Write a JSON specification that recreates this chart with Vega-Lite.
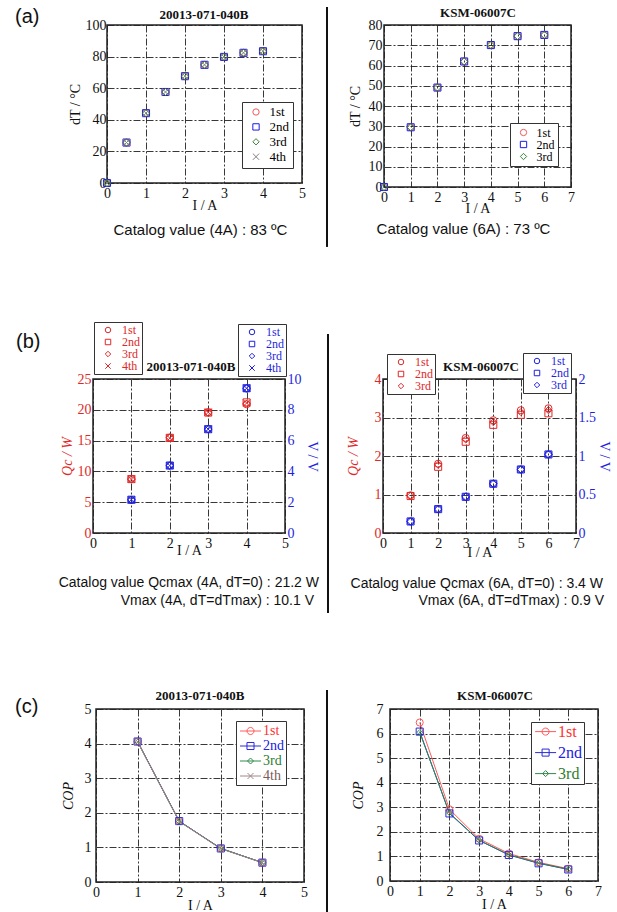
{
  "$schema": "https://vega.github.io/schema/vega-lite/v6.json",
  "background": "white",
  "padding": 0,
  "spacing": 0,
  "bounds": "flush",
  "resolve": {"scale": {"color": "independent", "shape": "independent"}, "legend": {"color": "independent", "shape": "independent"}},
  "config": {
    "font": "Liberation Serif",
    "view": {"stroke": "#222", "strokeWidth": 1.5},
    "axis": {
      "domain": false, "ticks": false,
      "labelFont": "Liberation Serif", "labelFontSize": 14, "labelColor": "#111", "labelPadding": 3,
      "labelFlush": false, "labelOverlap": false,
      "titleFont": "Liberation Serif", "titleFontSize": 14, "titleFontWeight": "normal", "titleColor": "#111",
      "grid": true, "gridColor": "#222", "gridDash": [7, 2, 2, 2], "gridWidth": 1, "gridOpacity": 0.9
    },
    "axisY": {"labelPadding": 2},
    "text": {"color": "#111"}
  },
  "datasets": {
    "aL": [
      {"run": "1st", "I": 0, "dT": 0}, {"run": "1st", "I": 0.5, "dT": 25.6}, {"run": "1st", "I": 1, "dT": 44.2}, {"run": "1st", "I": 1.5, "dT": 57.6}, {"run": "1st", "I": 2, "dT": 67.6}, {"run": "1st", "I": 2.5, "dT": 74.8}, {"run": "1st", "I": 3, "dT": 79.8}, {"run": "1st", "I": 3.5, "dT": 82.4}, {"run": "1st", "I": 4, "dT": 83.4},
      {"run": "2nd", "I": 0, "dT": 0}, {"run": "2nd", "I": 0.5, "dT": 25.6}, {"run": "2nd", "I": 1, "dT": 44.2}, {"run": "2nd", "I": 1.5, "dT": 57.6}, {"run": "2nd", "I": 2, "dT": 67.6}, {"run": "2nd", "I": 2.5, "dT": 74.8}, {"run": "2nd", "I": 3, "dT": 79.8}, {"run": "2nd", "I": 3.5, "dT": 82.4}, {"run": "2nd", "I": 4, "dT": 83.4},
      {"run": "3rd", "I": 0, "dT": 0}, {"run": "3rd", "I": 0.5, "dT": 25.6}, {"run": "3rd", "I": 1, "dT": 44.2}, {"run": "3rd", "I": 1.5, "dT": 57.6}, {"run": "3rd", "I": 2, "dT": 67.6}, {"run": "3rd", "I": 2.5, "dT": 74.8}, {"run": "3rd", "I": 3, "dT": 79.8}, {"run": "3rd", "I": 3.5, "dT": 82.4}, {"run": "3rd", "I": 4, "dT": 83.4},
      {"run": "4th", "I": 0, "dT": 0}, {"run": "4th", "I": 0.5, "dT": 25.6}, {"run": "4th", "I": 1, "dT": 44.2}, {"run": "4th", "I": 1.5, "dT": 57.6}, {"run": "4th", "I": 2, "dT": 67.6}, {"run": "4th", "I": 2.5, "dT": 74.8}, {"run": "4th", "I": 3, "dT": 79.8}, {"run": "4th", "I": 3.5, "dT": 82.4}, {"run": "4th", "I": 4, "dT": 83.4}
    ],
    "aR": [
      {"run": "1st", "I": 0, "dT": 0}, {"run": "1st", "I": 1, "dT": 29.5}, {"run": "1st", "I": 2, "dT": 49.1}, {"run": "1st", "I": 3, "dT": 62.0}, {"run": "1st", "I": 4, "dT": 70.1}, {"run": "1st", "I": 5, "dT": 74.5}, {"run": "1st", "I": 6, "dT": 75.1},
      {"run": "2nd", "I": 0, "dT": 0}, {"run": "2nd", "I": 1, "dT": 29.5}, {"run": "2nd", "I": 2, "dT": 49.1}, {"run": "2nd", "I": 3, "dT": 62.0}, {"run": "2nd", "I": 4, "dT": 70.1}, {"run": "2nd", "I": 5, "dT": 74.5}, {"run": "2nd", "I": 6, "dT": 75.1},
      {"run": "3rd", "I": 0, "dT": 0}, {"run": "3rd", "I": 1, "dT": 29.5}, {"run": "3rd", "I": 2, "dT": 49.1}, {"run": "3rd", "I": 3, "dT": 62.0}, {"run": "3rd", "I": 4, "dT": 70.1}, {"run": "3rd", "I": 5, "dT": 74.5}, {"run": "3rd", "I": 6, "dT": 75.1}
    ],
    "bL": [
      {"run": "1st", "I": 1, "Qc": 8.8, "V": 2.15}, {"run": "1st", "I": 2, "Qc": 15.5, "V": 4.38}, {"run": "1st", "I": 3, "Qc": 19.6, "V": 6.75}, {"run": "1st", "I": 4, "Qc": 20.9, "V": 9.38},
      {"run": "2nd", "I": 1, "Qc": 8.75, "V": 2.16}, {"run": "2nd", "I": 2, "Qc": 15.45, "V": 4.38}, {"run": "2nd", "I": 3, "Qc": 19.55, "V": 6.74}, {"run": "2nd", "I": 4, "Qc": 21.2, "V": 9.4},
      {"run": "3rd", "I": 1, "Qc": 8.7, "V": 2.16}, {"run": "3rd", "I": 2, "Qc": 15.5, "V": 4.38}, {"run": "3rd", "I": 3, "Qc": 19.5, "V": 6.74}, {"run": "3rd", "I": 4, "Qc": 21.0, "V": 9.4},
      {"run": "4th", "I": 1, "Qc": 8.75, "V": 2.16}, {"run": "4th", "I": 2, "Qc": 15.4, "V": 4.38}, {"run": "4th", "I": 3, "Qc": 19.6, "V": 6.74}, {"run": "4th", "I": 4, "Qc": 21.1, "V": 9.4}
    ],
    "bR": [
      {"run": "1st", "I": 1, "Qc": 0.98, "V": 0.15}, {"run": "1st", "I": 2, "Qc": 1.80, "V": 0.31}, {"run": "1st", "I": 3, "Qc": 2.47, "V": 0.47}, {"run": "1st", "I": 4, "Qc": 2.93, "V": 0.64}, {"run": "1st", "I": 5, "Qc": 3.19, "V": 0.825}, {"run": "1st", "I": 6, "Qc": 3.24, "V": 1.02},
      {"run": "2nd", "I": 1, "Qc": 0.96, "V": 0.15}, {"run": "2nd", "I": 2, "Qc": 1.72, "V": 0.31}, {"run": "2nd", "I": 3, "Qc": 2.37, "V": 0.47}, {"run": "2nd", "I": 4, "Qc": 2.81, "V": 0.64}, {"run": "2nd", "I": 5, "Qc": 3.07, "V": 0.825}, {"run": "2nd", "I": 6, "Qc": 3.11, "V": 1.02},
      {"run": "3rd", "I": 1, "Qc": 0.97, "V": 0.15}, {"run": "3rd", "I": 2, "Qc": 1.77, "V": 0.31}, {"run": "3rd", "I": 3, "Qc": 2.43, "V": 0.47}, {"run": "3rd", "I": 4, "Qc": 2.88, "V": 0.64}, {"run": "3rd", "I": 5, "Qc": 3.14, "V": 0.825}, {"run": "3rd", "I": 6, "Qc": 3.19, "V": 1.02}
    ],
    "cL": [
      {"run": "1st", "I": 1, "COP": 4.06}, {"run": "1st", "I": 2, "COP": 1.76}, {"run": "1st", "I": 3, "COP": 0.97}, {"run": "1st", "I": 4, "COP": 0.56},
      {"run": "2nd", "I": 1, "COP": 4.06}, {"run": "2nd", "I": 2, "COP": 1.76}, {"run": "2nd", "I": 3, "COP": 0.97}, {"run": "2nd", "I": 4, "COP": 0.56},
      {"run": "3rd", "I": 1, "COP": 4.05}, {"run": "3rd", "I": 2, "COP": 1.75}, {"run": "3rd", "I": 3, "COP": 0.97}, {"run": "3rd", "I": 4, "COP": 0.56},
      {"run": "4th", "I": 1, "COP": 4.05}, {"run": "4th", "I": 2, "COP": 1.75}, {"run": "4th", "I": 3, "COP": 0.96}, {"run": "4th", "I": 4, "COP": 0.56}
    ],
    "cR": [
      {"run": "1st", "I": 1, "COP": 6.45}, {"run": "1st", "I": 2, "COP": 2.92}, {"run": "1st", "I": 3, "COP": 1.72}, {"run": "1st", "I": 4, "COP": 1.12}, {"run": "1st", "I": 5, "COP": 0.76}, {"run": "1st", "I": 6, "COP": 0.50},
      {"run": "2nd", "I": 1, "COP": 6.08}, {"run": "2nd", "I": 2, "COP": 2.75}, {"run": "2nd", "I": 3, "COP": 1.65}, {"run": "2nd", "I": 4, "COP": 1.06}, {"run": "2nd", "I": 5, "COP": 0.72}, {"run": "2nd", "I": 6, "COP": 0.47},
      {"run": "3rd", "I": 1, "COP": 6.05}, {"run": "3rd", "I": 2, "COP": 2.77}, {"run": "3rd", "I": 3, "COP": 1.66}, {"run": "3rd", "I": 4, "COP": 1.07}, {"run": "3rd", "I": 5, "COP": 0.73}, {"run": "3rd", "I": 6, "COP": 0.48}
    ]
  },
  "vconcat": [
    {"width": 1, "height": 25, "data": {"values": []}, "mark": "point", "view": {"stroke": null}},
    {
      "spacing": 0, "bounds": "flush",
      "resolve": {"scale": {"color": "independent", "shape": "independent"}, "legend": {"color": "independent", "shape": "independent"}},
      "hconcat": [
        {"width": 107, "height": 1, "data": {"values": []}, "mark": "point", "view": {"stroke": null}},
        {
          "width": 195, "height": 158,
          "layer": [
            {
              "data": {"name": "aL"},
              "mark": {"type": "point", "filled": false, "size": 50, "strokeWidth": 1, "opacity": 1},
              "encoding": {
                "x": {"field": "I", "type": "quantitative", "scale": {"domain": [0, 5], "nice": false}, "axis": {"values": [0, 1, 2, 3, 4, 5], "title": "I / A", "titlePadding": -2}},
                "y": {"field": "dT", "type": "quantitative", "scale": {"domain": [0, 100], "nice": false}, "axis": {"values": [0, 20, 40, 60, 80, 100], "title": "dT / °C", "titlePadding": 3, "labelPadding": 1}},
                "color": {"field": "run", "type": "nominal", "scale": {"domain": ["1st", "2nd", "3rd", "4th"], "range": ["#f05a5a", "#1c1ce6", "#3a873a", "#808080"]},
                  "legend": {"orient": "none", "legendX": 135, "legendY": 77, "title": null, "strokeColor": "#333", "fillColor": "white", "padding": 3.5, "rowPadding": 0.9, "labelFont": "Liberation Serif", "labelFontSize": 13, "labelOffset": 7, "symbolOffset": 4, "symbolSize": 40, "symbolStrokeWidth": 1,
                    "encode": {"labels": {"update": {"fill": {"signal": "datum.value === '1st' ? '#e83030' : datum.value === '2nd' ? '#2020e0' : datum.value === '3rd' ? '#2e7d32' : '#606060'"}}}}}},
                "shape": {"field": "run", "type": "nominal", "scale": {"domain": ["1st", "2nd", "3rd", "4th"], "range": ["circle", "square", "diamond", "M-1,-1L1,1M-1,1L1,-1"]},
                  "legend": {"orient": "none", "legendX": 135, "legendY": 77, "title": null, "strokeColor": "#333", "fillColor": "white", "padding": 3.5, "rowPadding": 0.9, "labelFont": "Liberation Serif", "labelFontSize": 13, "labelOffset": 7, "symbolOffset": 4, "symbolSize": 40, "symbolStrokeWidth": 1,
                    "encode": {"labels": {"update": {"fill": {"signal": "datum.value === '1st' ? '#e83030' : datum.value === '2nd' ? '#2020e0' : datum.value === '3rd' ? '#2e7d32' : '#606060'"}}}}}}
              }
            },
            {
              "data": {"values": [{"t": "(a)"}]},
              "mark": {"type": "text", "font": "Liberation Sans", "fontSize": 20, "align": "left", "baseline": "middle"},
              "encoding": {
                "x": {"datum": -2.359, "type": "quantitative", "axis": {"values": [0, 1, 2, 3, 4, 5], "title": "I / A", "titlePadding": -2}},
                "y": {"datum": 105.06, "type": "quantitative", "axis": {"values": [0, 20, 40, 60, 80, 100], "title": "dT / °C", "titlePadding": 3, "labelPadding": 1}},
                "text": {"field": "t"}}
            },
            {
              "data": {"values": [{"t": "20013-071-040B"}]},
              "mark": {"type": "text", "font": "Liberation Serif", "fontSize": 13, "fontWeight": "bold", "align": "center", "baseline": "middle"},
              "encoding": {
                "x": {"datum": 2.487, "type": "quantitative", "axis": {"values": [0, 1, 2, 3, 4, 5], "title": "I / A", "titlePadding": -2}},
                "y": {"datum": 106.33, "type": "quantitative", "axis": {"values": [0, 20, 40, 60, 80, 100], "title": "dT / °C", "titlePadding": 3, "labelPadding": 1}},
                "text": {"field": "t"}}
            },
            {
              "data": {"values": [{"t": "Catalog value (4A) : 83 ºC"}]},
              "mark": {"type": "text", "font": "Liberation Sans", "fontSize": 15, "align": "center", "baseline": "middle"},
              "encoding": {
                "x": {"datum": 2.397, "type": "quantitative", "axis": {"values": [0, 1, 2, 3, 4, 5], "title": "I / A", "titlePadding": -2}},
                "y": {"datum": -29.75, "type": "quantitative", "axis": {"values": [0, 20, 40, 60, 80, 100], "title": "dT / °C", "titlePadding": 3, "labelPadding": 1}},
                "text": {"field": "t"}}
            }
          ]
        },
        {"width": 82, "height": 1, "data": {"values": []}, "mark": "point", "view": {"stroke": null}},
        {
          "width": 187, "height": 162,
          "layer": [
            {
              "data": {"name": "aR"},
              "mark": {"type": "point", "filled": false, "size": 50, "strokeWidth": 1, "opacity": 1},
              "encoding": {
                "x": {"field": "I", "type": "quantitative", "scale": {"domain": [0, 7], "nice": false}, "axis": {"values": [0, 1, 2, 3, 4, 5, 6, 7], "title": "I / A", "titlePadding": -3}},
                "y": {"field": "dT", "type": "quantitative", "scale": {"domain": [0, 80], "nice": false}, "axis": {"values": [0, 10, 20, 30, 40, 50, 60, 70, 80], "title": "dT / °C", "titlePadding": 6}},
                "color": {"field": "run", "type": "nominal", "scale": {"domain": ["1st", "2nd", "3rd"], "range": ["#f05a5a", "#1c1ce6", "#3a873a"]},
                  "legend": {"orient": "none", "legendX": 126, "legendY": 98, "title": null, "strokeColor": "#333", "fillColor": "white", "padding": 3.5, "rowPadding": 0, "labelFont": "Liberation Serif", "labelFontSize": 12, "labelOffset": 7, "symbolOffset": 4, "symbolSize": 40, "symbolStrokeWidth": 1,
                    "encode": {"labels": {"update": {"fill": {"signal": "datum.value === '1st' ? '#e83030' : datum.value === '2nd' ? '#2020e0' : '#2e7d32'"}}}}}},
                "shape": {"field": "run", "type": "nominal", "scale": {"domain": ["1st", "2nd", "3rd"], "range": ["circle", "square", "diamond"]},
                  "legend": {"orient": "none", "legendX": 126, "legendY": 98, "title": null, "strokeColor": "#333", "fillColor": "white", "padding": 3.5, "rowPadding": 0, "labelFont": "Liberation Serif", "labelFontSize": 12, "labelOffset": 7, "symbolOffset": 4, "symbolSize": 40, "symbolStrokeWidth": 1,
                    "encode": {"labels": {"update": {"fill": {"signal": "datum.value === '1st' ? '#e83030' : datum.value === '2nd' ? '#2020e0' : '#2e7d32'"}}}}}}
              }
            },
            {
              "data": {"values": [{"t": "KSM-06007C"}]},
              "mark": {"type": "text", "font": "Liberation Serif", "fontSize": 13, "fontWeight": "bold", "align": "center", "baseline": "middle"},
              "encoding": {
                "x": {"datum": 3.519, "type": "quantitative", "axis": {"values": [0, 1, 2, 3, 4, 5, 6, 7], "title": "I / A", "titlePadding": -3}},
                "y": {"datum": 86.07, "type": "quantitative", "axis": {"values": [0, 10, 20, 30, 40, 50, 60, 70, 80], "title": "dT / °C", "titlePadding": 6}},
                "text": {"field": "t"}}
            },
            {
              "data": {"values": [{"t": "Catalog value (6A) : 73 ºC"}]},
              "mark": {"type": "text", "font": "Liberation Sans", "fontSize": 15, "align": "center", "baseline": "middle"},
              "encoding": {
                "x": {"datum": 2.976, "type": "quantitative", "axis": {"values": [0, 1, 2, 3, 4, 5, 6, 7], "title": "I / A", "titlePadding": -3}},
                "y": {"datum": -20.9, "type": "quantitative", "axis": {"values": [0, 10, 20, 30, 40, 50, 60, 70, 80], "title": "dT / °C", "titlePadding": 6}},
                "text": {"field": "t"}}
            },
            {
              "data": {"values": [{}]},
              "mark": {"type": "rule", "strokeWidth": 2, "color": "#111"},
              "encoding": {
                "x": {"datum": -2.134, "type": "quantitative", "axis": {"values": [0, 1, 2, 3, 4, 5, 6, 7], "title": "I / A", "titlePadding": -3}},
                "y": {"datum": 88.9, "type": "quantitative", "axis": {"values": [0, 10, 20, 30, 40, 50, 60, 70, 80], "title": "dT / °C", "titlePadding": 6}},
                "y2": {"datum": -29.6}}
            }
          ]
        }
      ]
    },
    {"width": 1, "height": 354, "data": {"values": []}, "mark": "point", "view": {"stroke": null}},
    {
      "spacing": 0, "bounds": "flush",
      "resolve": {"scale": {"color": "independent", "shape": "independent"}, "legend": {"color": "independent", "shape": "independent"}},
      "hconcat": [
        {"width": 93, "height": 1, "data": {"values": []}, "mark": "point", "view": {"stroke": null}},
        {
          "width": 192, "height": 154,
          "layer": [
            {
              "layer": [
                {
                  "data": {"name": "bL"},
                  "mark": {"type": "point", "filled": false, "size": 50, "strokeWidth": 1, "opacity": 1, "color": "#e02828"},
                  "encoding": {
                    "x": {"field": "I", "type": "quantitative", "scale": {"domain": [0, 5], "nice": false}, "axis": {"values": [0, 1, 2, 3, 4, 5], "title": "I / A", "titlePadding": -7}},
                    "y": {"field": "Qc", "type": "quantitative", "scale": {"domain": [0, 25], "nice": false}, "axis": {"orient": "left", "values": [0, 5, 10, 15, 20, 25], "title": "Qc / W", "titleFontStyle": "italic", "labelColor": "#e02828", "titleColor": "#e02828", "titlePadding": 3}},
                    "shape": {"field": "run", "type": "nominal", "scale": {"domain": ["1st", "2nd", "3rd", "4th"], "range": ["circle", "square", "diamond", "M-1,-1L1,1M-1,1L1,-1"]},
                      "legend": {"orient": "none", "legendX": 1, "legendY": -57, "title": null, "strokeColor": "#333", "fillColor": "white", "padding": 2, "rowPadding": 0, "labelFont": "Liberation Serif", "labelFontSize": 12, "labelColor": "#e02828", "labelOffset": 8, "symbolOffset": 6, "symbolSize": 30, "symbolStrokeColor": "#e02828", "symbolFillColor": "transparent", "symbolStrokeWidth": 1}}
                  }
                },
                {
                  "data": {"values": [{"t": "(b)"}]},
                  "mark": {"type": "text", "font": "Liberation Sans", "fontSize": 20, "align": "left", "baseline": "middle"},
                  "encoding": {
                    "x": {"datum": -2.005, "type": "quantitative", "axis": {"values": [0, 1, 2, 3, 4, 5], "title": "I / A", "titlePadding": -7}},
                    "y": {"datum": 31.0, "type": "quantitative", "axis": {"orient": "left", "values": [0, 5, 10, 15, 20, 25], "title": "Qc / W", "titleFontStyle": "italic", "labelColor": "#e02828", "titleColor": "#e02828", "titlePadding": 3}},
                    "text": {"field": "t"}}
                },
                {
                  "data": {"values": [{"t": "20013-071-040B"}]},
                  "mark": {"type": "text", "font": "Liberation Serif", "fontSize": 13, "fontWeight": "bold", "align": "center", "baseline": "middle"},
                  "encoding": {
                    "x": {"datum": 2.552, "type": "quantitative", "axis": {"values": [0, 1, 2, 3, 4, 5], "title": "I / A", "titlePadding": -7}},
                    "y": {"datum": 26.95, "type": "quantitative", "axis": {"orient": "left", "values": [0, 5, 10, 15, 20, 25], "title": "Qc / W", "titleFontStyle": "italic", "labelColor": "#e02828", "titleColor": "#e02828", "titlePadding": 3}},
                    "text": {"field": "t"}}
                },
                {
                  "data": {"values": [{"t": "Catalog value Qcmax (4A, dT=0) : 21.2 W"}]},
                  "mark": {"type": "text", "font": "Liberation Sans", "fontSize": 14, "align": "right", "baseline": "middle"},
                  "encoding": {
                    "x": {"datum": 5.885, "type": "quantitative", "axis": {"values": [0, 1, 2, 3, 4, 5], "title": "I / A", "titlePadding": -7}},
                    "y": {"datum": -8.07, "type": "quantitative", "axis": {"orient": "left", "values": [0, 5, 10, 15, 20, 25], "title": "Qc / W", "titleFontStyle": "italic", "labelColor": "#e02828", "titleColor": "#e02828", "titlePadding": 3}},
                    "text": {"field": "t"}}
                },
                {
                  "data": {"values": [{"t": "Vmax (4A, dT=dTmax) : 10.1 V"}]},
                  "mark": {"type": "text", "font": "Liberation Sans", "fontSize": 14, "align": "right", "baseline": "middle"},
                  "encoding": {
                    "x": {"datum": 5.755, "type": "quantitative", "axis": {"values": [0, 1, 2, 3, 4, 5], "title": "I / A", "titlePadding": -7}},
                    "y": {"datum": -11.04, "type": "quantitative", "axis": {"orient": "left", "values": [0, 5, 10, 15, 20, 25], "title": "Qc / W", "titleFontStyle": "italic", "labelColor": "#e02828", "titleColor": "#e02828", "titlePadding": 3}},
                    "text": {"field": "t"}}
                }
              ]
            },
            {
              "data": {"name": "bL"},
              "mark": {"type": "point", "filled": false, "size": 50, "strokeWidth": 1, "opacity": 1, "color": "#1f1fe0"},
              "encoding": {
                "x": {"field": "I", "type": "quantitative", "scale": {"domain": [0, 5], "nice": false}, "axis": {"values": [0, 1, 2, 3, 4, 5], "title": "I / A", "titlePadding": -7}},
                "y": {"field": "V", "type": "quantitative", "scale": {"domain": [0, 10], "nice": false}, "axis": {"orient": "right", "values": [0, 2, 4, 6, 8, 10], "title": "V / V", "grid": false, "labelColor": "#1f1fe0", "titleColor": "#1f1fe0", "titlePadding": 3}},
                "shape": {"field": "run", "type": "nominal", "scale": {"domain": ["1st", "2nd", "3rd", "4th"], "range": ["circle", "square", "diamond", "M-1,-1L1,1M-1,1L1,-1"]},
                  "legend": {"orient": "none", "legendX": 145, "legendY": -55, "title": null, "strokeColor": "#333", "fillColor": "white", "padding": 2, "rowPadding": 0, "labelFont": "Liberation Serif", "labelFontSize": 12, "labelColor": "#1f1fe0", "labelOffset": 8, "symbolOffset": 6, "symbolSize": 30, "symbolStrokeColor": "#1f1fe0", "symbolFillColor": "transparent", "symbolStrokeWidth": 1}}
              }
            }
          ],
          "resolve": {"scale": {"y": "independent", "shape": "independent"}, "legend": {"shape": "independent"}}
        },
        {"width": 98, "height": 1, "data": {"values": []}, "mark": "point", "view": {"stroke": null}},
        {
          "width": 193, "height": 154,
          "layer": [
            {
              "layer": [
                {
                  "data": {"name": "bR"},
                  "mark": {"type": "point", "filled": false, "size": 50, "strokeWidth": 1, "opacity": 1, "color": "#e02828"},
                  "encoding": {
                    "x": {"field": "I", "type": "quantitative", "scale": {"domain": [0, 7], "nice": false}, "axis": {"values": [0, 1, 2, 3, 4, 5, 6, 7], "title": "I / A", "titlePadding": -5}},
                    "y": {"field": "Qc", "type": "quantitative", "scale": {"domain": [0, 4], "nice": false}, "axis": {"orient": "left", "values": [0, 1, 2, 3, 4], "title": "Qc / W", "titleFontStyle": "italic", "labelColor": "#e02828", "titleColor": "#e02828", "titlePadding": 14}},
                    "shape": {"field": "run", "type": "nominal", "scale": {"domain": ["1st", "2nd", "3rd"], "range": ["circle", "square", "diamond"]},
                      "legend": {"orient": "none", "legendX": 4, "legendY": -25, "title": null, "strokeColor": "#333", "fillColor": "white", "padding": 2, "rowPadding": 0, "labelFont": "Liberation Serif", "labelFontSize": 12, "labelColor": "#e02828", "labelOffset": 8, "symbolOffset": 6, "symbolSize": 30, "symbolStrokeColor": "#e02828", "symbolFillColor": "transparent", "symbolStrokeWidth": 1}}
                  }
                },
                {
                  "data": {"values": [{"t": "KSM-06007C"}]},
                  "mark": {"type": "text", "font": "Liberation Serif", "fontSize": 13, "fontWeight": "bold", "align": "center", "baseline": "middle"},
                  "encoding": {
                    "x": {"datum": 3.555, "type": "quantitative", "axis": {"values": [0, 1, 2, 3, 4, 5, 6, 7], "title": "I / A", "titlePadding": -5}},
                    "y": {"datum": 4.312, "type": "quantitative", "axis": {"orient": "left", "values": [0, 1, 2, 3, 4], "title": "Qc / W", "titleFontStyle": "italic", "labelColor": "#e02828", "titleColor": "#e02828", "titlePadding": 14}},
                    "text": {"field": "t"}}
                },
                {
                  "data": {"values": [{"t": "Catalog value Qcmax (6A, dT=0) : 3.4 W"}]},
                  "mark": {"type": "text", "font": "Liberation Sans", "fontSize": 14, "align": "right", "baseline": "middle"},
                  "encoding": {
                    "x": {"datum": 7.98, "type": "quantitative", "axis": {"values": [0, 1, 2, 3, 4, 5, 6, 7], "title": "I / A", "titlePadding": -5}},
                    "y": {"datum": -1.325, "type": "quantitative", "axis": {"orient": "left", "values": [0, 1, 2, 3, 4], "title": "Qc / W", "titleFontStyle": "italic", "labelColor": "#e02828", "titleColor": "#e02828", "titlePadding": 14}},
                    "text": {"field": "t"}}
                },
                {
                  "data": {"values": [{"t": "Vmax (6A, dT=dTmax) : 0.9 V"}]},
                  "mark": {"type": "text", "font": "Liberation Sans", "fontSize": 14, "align": "right", "baseline": "middle"},
                  "encoding": {
                    "x": {"datum": 8.016, "type": "quantitative", "axis": {"values": [0, 1, 2, 3, 4, 5, 6, 7], "title": "I / A", "titlePadding": -5}},
                    "y": {"datum": -1.766, "type": "quantitative", "axis": {"orient": "left", "values": [0, 1, 2, 3, 4], "title": "Qc / W", "titleFontStyle": "italic", "labelColor": "#e02828", "titleColor": "#e02828", "titlePadding": 14}},
                    "text": {"field": "t"}}
                },
                {
                  "data": {"values": [{}]},
                  "mark": {"type": "rule", "strokeWidth": 2, "color": "#111"},
                  "encoding": {
                    "x": {"datum": -1.995, "type": "quantitative", "axis": {"values": [0, 1, 2, 3, 4, 5, 6, 7], "title": "I / A", "titlePadding": -5}},
                    "y": {"datum": 5.169, "type": "quantitative", "axis": {"orient": "left", "values": [0, 1, 2, 3, 4], "title": "Qc / W", "titleFontStyle": "italic", "labelColor": "#e02828", "titleColor": "#e02828", "titlePadding": 14}},
                    "y2": {"datum": -2.078}}
                }
              ]
            },
            {
              "data": {"name": "bR"},
              "mark": {"type": "point", "filled": false, "size": 50, "strokeWidth": 1, "opacity": 1, "color": "#1f1fe0"},
              "encoding": {
                "x": {"field": "I", "type": "quantitative", "scale": {"domain": [0, 7], "nice": false}, "axis": {"values": [0, 1, 2, 3, 4, 5, 6, 7], "title": "I / A", "titlePadding": -5}},
                "y": {"field": "V", "type": "quantitative", "scale": {"domain": [0, 2], "nice": false}, "axis": {"orient": "right", "values": [0, 0.5, 1, 1.5, 2], "format": "~g", "title": "V / V", "grid": false, "labelColor": "#1f1fe0", "titleColor": "#1f1fe0", "titlePadding": 1}},
                "shape": {"field": "run", "type": "nominal", "scale": {"domain": ["1st", "2nd", "3rd"], "range": ["circle", "square", "diamond"]},
                  "legend": {"orient": "none", "legendX": 140, "legendY": -26, "title": null, "strokeColor": "#333", "fillColor": "white", "padding": 2, "rowPadding": 0, "labelFont": "Liberation Serif", "labelFontSize": 12, "labelColor": "#1f1fe0", "labelOffset": 8, "symbolOffset": 6, "symbolSize": 30, "symbolStrokeColor": "#1f1fe0", "symbolFillColor": "transparent", "symbolStrokeWidth": 1}}
              }
            }
          ],
          "resolve": {"scale": {"y": "independent", "shape": "independent"}, "legend": {"shape": "independent"}}
        }
      ]
    },
    {"width": 1, "height": 330, "data": {"values": []}, "mark": "point", "view": {"stroke": null}},
    {
      "spacing": 0, "bounds": "flush",
      "resolve": {"scale": {"color": "independent", "shape": "independent"}, "legend": {"color": "independent", "shape": "independent"}},
      "hconcat": [
        {"width": 96, "height": 1, "data": {"values": []}, "mark": "point", "view": {"stroke": null}},
        {
          "width": 208, "height": 173,
          "layer": [
            {
              "data": {"name": "cL"},
              "mark": {"type": "line", "strokeWidth": 1},
              "encoding": {
                "x": {"field": "I", "type": "quantitative", "scale": {"domain": [0, 5], "nice": false}, "axis": {"values": [0, 1, 2, 3, 4, 5], "title": "I / A", "titlePadding": -1}},
                "y": {"field": "COP", "type": "quantitative", "scale": {"domain": [0, 5], "nice": false}, "axis": {"values": [0, 1, 2, 3, 4, 5], "title": "COP", "titleFontStyle": "italic", "titlePadding": 9, "labelPadding": 5}},
                "color": {"field": "run", "type": "nominal", "scale": {"domain": ["1st", "2nd", "3rd", "4th"], "range": ["#ff5a5a", "#2a2ad8", "#2f8a4a", "#a08888"]},
                  "legend": {"orient": "none", "legendX": 140, "legendY": 12, "title": null, "strokeColor": "#333", "fillColor": "white", "padding": 2, "rowPadding": 0, "labelFont": "Liberation Serif", "labelFontSize": 14, "labelOffset": 4.5, "symbolOffset": 4.5, "symbolSize": 225, "symbolStrokeWidth": 1, "symbolFillColor": "transparent",
                    "encode": {
                      "symbols": {"update": {"shape": {"signal": "datum.value === '1st' ? 'M-1.4,0H1.4M0.47,0A0.47,0.47,0,1,1,-0.47,0A0.47,0.47,0,1,1,0.47,0' : datum.value === '2nd' ? 'M-1.4,0H1.4M-0.47,-0.47H0.47V0.47H-0.47Z' : datum.value === '3rd' ? 'M-1.4,0H1.4M0,-0.4L0.4,0L0,0.4L-0.4,0Z' : 'M-1.4,0H1.4M-0.4,-0.4L0.4,0.4M-0.4,0.4L0.4,-0.4'"}}},
                      "labels": {"update": {"fill": {"signal": "datum.value === '1st' ? '#ff3030' : datum.value === '2nd' ? '#2020e0' : datum.value === '3rd' ? '#2e7d32' : '#7a5a5a'"}}}
                    }}}
              }
            },
            {
              "data": {"name": "cL"},
              "transform": [{"filter": "datum.run === '1st'"}],
              "mark": {"type": "point", "shape": "circle", "filled": false, "size": 50, "strokeWidth": 1, "opacity": 1},
              "encoding": {
                "x": {"field": "I", "type": "quantitative", "axis": {"values": [0, 1, 2, 3, 4, 5], "title": "I / A", "titlePadding": -1}},
                "y": {"field": "COP", "type": "quantitative", "axis": {"values": [0, 1, 2, 3, 4, 5], "title": "COP", "titleFontStyle": "italic", "titlePadding": 9, "labelPadding": 5}},
                "color": {"field": "run", "type": "nominal",
                  "legend": {"orient": "none", "legendX": 140, "legendY": 12, "title": null, "strokeColor": "#333", "fillColor": "white", "padding": 2, "rowPadding": 0, "labelFont": "Liberation Serif", "labelFontSize": 14, "labelOffset": 4.5, "symbolOffset": 4.5, "symbolSize": 225, "symbolStrokeWidth": 1, "symbolFillColor": "transparent",
                    "encode": {
                      "symbols": {"update": {"shape": {"signal": "datum.value === '1st' ? 'M-1.4,0H1.4M0.47,0A0.47,0.47,0,1,1,-0.47,0A0.47,0.47,0,1,1,0.47,0' : datum.value === '2nd' ? 'M-1.4,0H1.4M-0.47,-0.47H0.47V0.47H-0.47Z' : datum.value === '3rd' ? 'M-1.4,0H1.4M0,-0.4L0.4,0L0,0.4L-0.4,0Z' : 'M-1.4,0H1.4M-0.4,-0.4L0.4,0.4M-0.4,0.4L0.4,-0.4'"}}},
                      "labels": {"update": {"fill": {"signal": "datum.value === '1st' ? '#ff3030' : datum.value === '2nd' ? '#2020e0' : datum.value === '3rd' ? '#2e7d32' : '#7a5a5a'"}}}
                    }}}
              }
            },
            {
              "data": {"name": "cL"},
              "transform": [{"filter": "datum.run === '2nd'"}],
              "mark": {"type": "point", "shape": "square", "filled": false, "size": 50, "strokeWidth": 1, "opacity": 1},
              "encoding": {
                "x": {"field": "I", "type": "quantitative", "axis": {"values": [0, 1, 2, 3, 4, 5], "title": "I / A", "titlePadding": -1}},
                "y": {"field": "COP", "type": "quantitative", "axis": {"values": [0, 1, 2, 3, 4, 5], "title": "COP", "titleFontStyle": "italic", "titlePadding": 9, "labelPadding": 5}},
                "color": {"field": "run", "type": "nominal",
                  "legend": {"orient": "none", "legendX": 140, "legendY": 12, "title": null, "strokeColor": "#333", "fillColor": "white", "padding": 2, "rowPadding": 0, "labelFont": "Liberation Serif", "labelFontSize": 14, "labelOffset": 4.5, "symbolOffset": 4.5, "symbolSize": 225, "symbolStrokeWidth": 1, "symbolFillColor": "transparent",
                    "encode": {
                      "symbols": {"update": {"shape": {"signal": "datum.value === '1st' ? 'M-1.4,0H1.4M0.47,0A0.47,0.47,0,1,1,-0.47,0A0.47,0.47,0,1,1,0.47,0' : datum.value === '2nd' ? 'M-1.4,0H1.4M-0.47,-0.47H0.47V0.47H-0.47Z' : datum.value === '3rd' ? 'M-1.4,0H1.4M0,-0.4L0.4,0L0,0.4L-0.4,0Z' : 'M-1.4,0H1.4M-0.4,-0.4L0.4,0.4M-0.4,0.4L0.4,-0.4'"}}},
                      "labels": {"update": {"fill": {"signal": "datum.value === '1st' ? '#ff3030' : datum.value === '2nd' ? '#2020e0' : datum.value === '3rd' ? '#2e7d32' : '#7a5a5a'"}}}
                    }}}
              }
            },
            {
              "data": {"name": "cL"},
              "transform": [{"filter": "datum.run === '3rd'"}],
              "mark": {"type": "point", "shape": "diamond", "filled": false, "size": 30, "strokeWidth": 1, "opacity": 1},
              "encoding": {
                "x": {"field": "I", "type": "quantitative", "axis": {"values": [0, 1, 2, 3, 4, 5], "title": "I / A", "titlePadding": -1}},
                "y": {"field": "COP", "type": "quantitative", "axis": {"values": [0, 1, 2, 3, 4, 5], "title": "COP", "titleFontStyle": "italic", "titlePadding": 9, "labelPadding": 5}},
                "color": {"field": "run", "type": "nominal",
                  "legend": {"orient": "none", "legendX": 140, "legendY": 12, "title": null, "strokeColor": "#333", "fillColor": "white", "padding": 2, "rowPadding": 0, "labelFont": "Liberation Serif", "labelFontSize": 14, "labelOffset": 4.5, "symbolOffset": 4.5, "symbolSize": 225, "symbolStrokeWidth": 1, "symbolFillColor": "transparent",
                    "encode": {
                      "symbols": {"update": {"shape": {"signal": "datum.value === '1st' ? 'M-1.4,0H1.4M0.47,0A0.47,0.47,0,1,1,-0.47,0A0.47,0.47,0,1,1,0.47,0' : datum.value === '2nd' ? 'M-1.4,0H1.4M-0.47,-0.47H0.47V0.47H-0.47Z' : datum.value === '3rd' ? 'M-1.4,0H1.4M0,-0.4L0.4,0L0,0.4L-0.4,0Z' : 'M-1.4,0H1.4M-0.4,-0.4L0.4,0.4M-0.4,0.4L0.4,-0.4'"}}},
                      "labels": {"update": {"fill": {"signal": "datum.value === '1st' ? '#ff3030' : datum.value === '2nd' ? '#2020e0' : datum.value === '3rd' ? '#2e7d32' : '#7a5a5a'"}}}
                    }}}
              }
            },
            {
              "data": {"name": "cL"},
              "transform": [{"filter": "datum.run === '4th'"}],
              "mark": {"type": "point", "shape": "M-1,-1L1,1M-1,1L1,-1", "filled": false, "size": 40, "strokeWidth": 1, "opacity": 1},
              "encoding": {
                "x": {"field": "I", "type": "quantitative", "axis": {"values": [0, 1, 2, 3, 4, 5], "title": "I / A", "titlePadding": -1}},
                "y": {"field": "COP", "type": "quantitative", "axis": {"values": [0, 1, 2, 3, 4, 5], "title": "COP", "titleFontStyle": "italic", "titlePadding": 9, "labelPadding": 5}},
                "color": {"field": "run", "type": "nominal",
                  "legend": {"orient": "none", "legendX": 140, "legendY": 12, "title": null, "strokeColor": "#333", "fillColor": "white", "padding": 2, "rowPadding": 0, "labelFont": "Liberation Serif", "labelFontSize": 14, "labelOffset": 4.5, "symbolOffset": 4.5, "symbolSize": 225, "symbolStrokeWidth": 1, "symbolFillColor": "transparent",
                    "encode": {
                      "symbols": {"update": {"shape": {"signal": "datum.value === '1st' ? 'M-1.4,0H1.4M0.47,0A0.47,0.47,0,1,1,-0.47,0A0.47,0.47,0,1,1,0.47,0' : datum.value === '2nd' ? 'M-1.4,0H1.4M-0.47,-0.47H0.47V0.47H-0.47Z' : datum.value === '3rd' ? 'M-1.4,0H1.4M0,-0.4L0.4,0L0,0.4L-0.4,0Z' : 'M-1.4,0H1.4M-0.4,-0.4L0.4,0.4M-0.4,0.4L0.4,-0.4'"}}},
                      "labels": {"update": {"fill": {"signal": "datum.value === '1st' ? '#ff3030' : datum.value === '2nd' ? '#2020e0' : datum.value === '3rd' ? '#2e7d32' : '#7a5a5a'"}}}
                    }}}
              }
            },
            {
              "data": {"values": [{"t": "(c)"}]},
              "mark": {"type": "text", "font": "Liberation Sans", "fontSize": 20, "align": "left", "baseline": "middle"},
              "encoding": {
                "x": {"datum": -1.947, "type": "quantitative", "axis": {"values": [0, 1, 2, 3, 4, 5], "title": "I / A", "titlePadding": -1}},
                "y": {"datum": 5.058, "type": "quantitative", "axis": {"values": [0, 1, 2, 3, 4, 5], "title": "COP", "titleFontStyle": "italic", "titlePadding": 9, "labelPadding": 5}},
                "text": {"field": "t"}}
            },
            {
              "data": {"values": [{"t": "20013-071-040B"}]},
              "mark": {"type": "text", "font": "Liberation Serif", "fontSize": 13, "fontWeight": "bold", "align": "center", "baseline": "middle"},
              "encoding": {
                "x": {"datum": 2.5, "type": "quantitative", "axis": {"values": [0, 1, 2, 3, 4, 5], "title": "I / A", "titlePadding": -1}},
                "y": {"datum": 5.376, "type": "quantitative", "axis": {"values": [0, 1, 2, 3, 4, 5], "title": "COP", "titleFontStyle": "italic", "titlePadding": 9, "labelPadding": 5}},
                "text": {"field": "t"}}
            }
          ]
        },
        {"width": 86, "height": 1, "data": {"values": []}, "mark": "point", "view": {"stroke": null}},
        {
          "width": 208, "height": 172,
          "layer": [
            {
              "data": {"name": "cR"},
              "mark": {"type": "line", "strokeWidth": 1},
              "encoding": {
                "x": {"field": "I", "type": "quantitative", "scale": {"domain": [0, 7], "nice": false}, "axis": {"values": [0, 1, 2, 3, 4, 5, 6, 7], "title": "I / A", "titlePadding": -1}},
                "y": {"field": "COP", "type": "quantitative", "scale": {"domain": [0, 7], "nice": false}, "axis": {"values": [0, 1, 2, 3, 4, 5, 6, 7], "title": "COP", "titleFontStyle": "italic", "titlePadding": 11, "labelPadding": 7}},
                "color": {"field": "run", "type": "nominal", "scale": {"domain": ["1st", "2nd", "3rd"], "range": ["#ff5a5a", "#2a2ad8", "#2f8a4a"]},
                  "legend": {"orient": "none", "legendX": 141, "legendY": 13, "title": null, "strokeColor": "#333", "fillColor": "white", "padding": 1.6, "rowPadding": 5, "labelFont": "Liberation Serif", "labelFontSize": 16, "labelOffset": 4.5, "symbolOffset": 5, "symbolSize": 225, "symbolStrokeWidth": 1, "symbolFillColor": "transparent",
                    "encode": {
                      "symbols": {"update": {"shape": {"signal": "datum.value === '1st' ? 'M-1.4,0H1.4M0.47,0A0.47,0.47,0,1,1,-0.47,0A0.47,0.47,0,1,1,0.47,0' : datum.value === '2nd' ? 'M-1.4,0H1.4M-0.47,-0.47H0.47V0.47H-0.47Z' : 'M-1.4,0H1.4M0,-0.4L0.4,0L0,0.4L-0.4,0Z'"}}},
                      "labels": {"update": {"fill": {"signal": "datum.value === '1st' ? '#ff3030' : datum.value === '2nd' ? '#2020e0' : '#2e7d32'"}}}
                    }}}
              }
            },
            {
              "data": {"name": "cR"},
              "transform": [{"filter": "datum.run === '1st'"}],
              "mark": {"type": "point", "shape": "circle", "filled": false, "size": 50, "strokeWidth": 1, "opacity": 1},
              "encoding": {
                "x": {"field": "I", "type": "quantitative", "axis": {"values": [0, 1, 2, 3, 4, 5, 6, 7], "title": "I / A", "titlePadding": -1}},
                "y": {"field": "COP", "type": "quantitative", "axis": {"values": [0, 1, 2, 3, 4, 5, 6, 7], "title": "COP", "titleFontStyle": "italic", "titlePadding": 11, "labelPadding": 7}},
                "color": {"field": "run", "type": "nominal",
                  "legend": {"orient": "none", "legendX": 141, "legendY": 13, "title": null, "strokeColor": "#333", "fillColor": "white", "padding": 1.6, "rowPadding": 5, "labelFont": "Liberation Serif", "labelFontSize": 16, "labelOffset": 4.5, "symbolOffset": 5, "symbolSize": 225, "symbolStrokeWidth": 1, "symbolFillColor": "transparent",
                    "encode": {
                      "symbols": {"update": {"shape": {"signal": "datum.value === '1st' ? 'M-1.4,0H1.4M0.47,0A0.47,0.47,0,1,1,-0.47,0A0.47,0.47,0,1,1,0.47,0' : datum.value === '2nd' ? 'M-1.4,0H1.4M-0.47,-0.47H0.47V0.47H-0.47Z' : 'M-1.4,0H1.4M0,-0.4L0.4,0L0,0.4L-0.4,0Z'"}}},
                      "labels": {"update": {"fill": {"signal": "datum.value === '1st' ? '#ff3030' : datum.value === '2nd' ? '#2020e0' : '#2e7d32'"}}}
                    }}}
              }
            },
            {
              "data": {"name": "cR"},
              "transform": [{"filter": "datum.run === '2nd'"}],
              "mark": {"type": "point", "shape": "square", "filled": false, "size": 50, "strokeWidth": 1, "opacity": 1},
              "encoding": {
                "x": {"field": "I", "type": "quantitative", "axis": {"values": [0, 1, 2, 3, 4, 5, 6, 7], "title": "I / A", "titlePadding": -1}},
                "y": {"field": "COP", "type": "quantitative", "axis": {"values": [0, 1, 2, 3, 4, 5, 6, 7], "title": "COP", "titleFontStyle": "italic", "titlePadding": 11, "labelPadding": 7}},
                "color": {"field": "run", "type": "nominal",
                  "legend": {"orient": "none", "legendX": 141, "legendY": 13, "title": null, "strokeColor": "#333", "fillColor": "white", "padding": 1.6, "rowPadding": 5, "labelFont": "Liberation Serif", "labelFontSize": 16, "labelOffset": 4.5, "symbolOffset": 5, "symbolSize": 225, "symbolStrokeWidth": 1, "symbolFillColor": "transparent",
                    "encode": {
                      "symbols": {"update": {"shape": {"signal": "datum.value === '1st' ? 'M-1.4,0H1.4M0.47,0A0.47,0.47,0,1,1,-0.47,0A0.47,0.47,0,1,1,0.47,0' : datum.value === '2nd' ? 'M-1.4,0H1.4M-0.47,-0.47H0.47V0.47H-0.47Z' : 'M-1.4,0H1.4M0,-0.4L0.4,0L0,0.4L-0.4,0Z'"}}},
                      "labels": {"update": {"fill": {"signal": "datum.value === '1st' ? '#ff3030' : datum.value === '2nd' ? '#2020e0' : '#2e7d32'"}}}
                    }}}
              }
            },
            {
              "data": {"name": "cR"},
              "transform": [{"filter": "datum.run === '3rd'"}],
              "mark": {"type": "point", "shape": "diamond", "filled": false, "size": 30, "strokeWidth": 1, "opacity": 1},
              "encoding": {
                "x": {"field": "I", "type": "quantitative", "axis": {"values": [0, 1, 2, 3, 4, 5, 6, 7], "title": "I / A", "titlePadding": -1}},
                "y": {"field": "COP", "type": "quantitative", "axis": {"values": [0, 1, 2, 3, 4, 5, 6, 7], "title": "COP", "titleFontStyle": "italic", "titlePadding": 11, "labelPadding": 7}},
                "color": {"field": "run", "type": "nominal",
                  "legend": {"orient": "none", "legendX": 141, "legendY": 13, "title": null, "strokeColor": "#333", "fillColor": "white", "padding": 1.6, "rowPadding": 5, "labelFont": "Liberation Serif", "labelFontSize": 16, "labelOffset": 4.5, "symbolOffset": 5, "symbolSize": 225, "symbolStrokeWidth": 1, "symbolFillColor": "transparent",
                    "encode": {
                      "symbols": {"update": {"shape": {"signal": "datum.value === '1st' ? 'M-1.4,0H1.4M0.47,0A0.47,0.47,0,1,1,-0.47,0A0.47,0.47,0,1,1,0.47,0' : datum.value === '2nd' ? 'M-1.4,0H1.4M-0.47,-0.47H0.47V0.47H-0.47Z' : 'M-1.4,0H1.4M0,-0.4L0.4,0L0,0.4L-0.4,0Z'"}}},
                      "labels": {"update": {"fill": {"signal": "datum.value === '1st' ? '#ff3030' : datum.value === '2nd' ? '#2020e0' : '#2e7d32'"}}}
                    }}}
              }
            },
            {
              "data": {"values": [{"t": "KSM-06007C"}]},
              "mark": {"type": "text", "font": "Liberation Serif", "fontSize": 13, "fontWeight": "bold", "align": "center", "baseline": "middle"},
              "encoding": {
                "x": {"datum": 3.534, "type": "quantitative", "axis": {"values": [0, 1, 2, 3, 4, 5, 6, 7], "title": "I / A", "titlePadding": -1}},
                "y": {"datum": 7.529, "type": "quantitative", "axis": {"values": [0, 1, 2, 3, 4, 5, 6, 7], "title": "COP", "titleFontStyle": "italic", "titlePadding": 11, "labelPadding": 7}},
                "text": {"field": "t"}}
            },
            {
              "data": {"values": [{}]},
              "mark": {"type": "rule", "strokeWidth": 2, "color": "#111"},
              "encoding": {
                "x": {"datum": -2.12, "type": "quantitative", "axis": {"values": [0, 1, 2, 3, 4, 5, 6, 7], "title": "I / A", "titlePadding": -1}},
                "y": {"datum": 7.773, "type": "quantitative", "axis": {"values": [0, 1, 2, 3, 4, 5, 6, 7], "title": "COP", "titleFontStyle": "italic", "titlePadding": 11, "labelPadding": 7}},
                "y2": {"datum": -1.384}}
            }
          ]
        }
      ]
    }
  ]
}
